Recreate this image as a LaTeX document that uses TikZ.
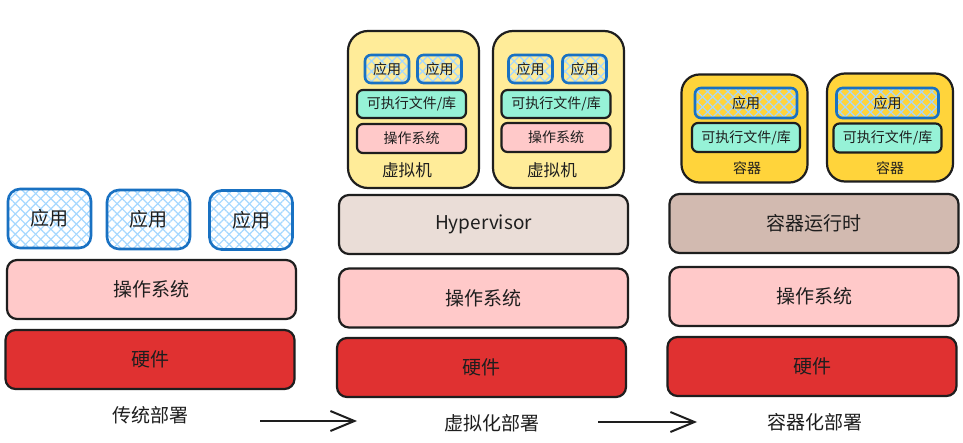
\documentclass[tikz,border=0pt]{standalone}
\usepackage{fontspec}
\setmainfont{Noto Sans CJK SC}
\usetikzlibrary{patterns.meta,arrows.meta}
\definecolor{ink}{HTML}{1E1E1E}
\definecolor{appblue}{HTML}{1971C2}
\definecolor{hatch}{HTML}{A5D8FF}
\definecolor{ospink}{HTML}{FFC9C9}
\definecolor{hwred}{HTML}{E03131}
\definecolor{hyperbeige}{HTML}{EADDD7}
\definecolor{runbrown}{HTML}{D2BAB0}
\definecolor{vmyellow}{HTML}{FFEC99}
\definecolor{ctyellow}{HTML}{FFD43B}
\definecolor{execgreen}{HTML}{96F2D7}
\tikzset{
  box/.style={draw=ink, line width=1.1pt, rounded corners=5pt, text=ink, inner sep=0pt,
    font=\fontsize{9.5}{11}\selectfont},
  layer/.style={box, minimum width=144.5pt, minimum height=29.5pt},
  hwbox/.style={layer, fill=hwred},
  osbox/.style={layer, fill=ospink},
  hyperbox/.style={layer, fill=hyperbeige},
  runbox/.style={layer, fill=runbrown},
  hatched/.style={draw=appblue, line width=1.3pt,
    pattern={Lines[angle=45,distance=3.6pt,line width=.6pt]}, pattern color=hatch,
    preaction={pattern={Lines[angle=-45,distance=3.6pt,line width=.6pt]}, pattern color=hatch}},
  appbox/.style={box, hatched, minimum width=41.5pt, minimum height=29.5pt, rounded corners=6pt},
  small/.style={box, rounded corners=3pt, font=\fontsize{7}{8}\selectfont},
  vmapp/.style={small, hatched, minimum width=22pt, minimum height=14pt},
  vmexec/.style={small, fill=execgreen, minimum width=54.5pt, minimum height=14pt},
  vmos/.style={small, fill=ospink, minimum width=54.5pt, minimum height=14.5pt},
  vmbox/.style={box, fill=vmyellow, rounded corners=10pt, minimum width=65.5pt, minimum height=78.5pt},
  ctbox/.style={box, fill=ctyellow, rounded corners=9pt, minimum width=63pt, minimum height=54pt},
  ctapp/.style={small, hatched, minimum width=51pt, minimum height=15pt},
  ctexec/.style={small, fill=execgreen, minimum width=54pt, minimum height=14.5pt},
  caption/.style={text=ink, font=\fontsize{9.5}{11}\selectfont},
  flow/.style={draw=ink, line width=1pt, -{Straight Barb[length=12pt,width=10pt]}}
}
\begin{document}
\begin{tikzpicture}[x=0.5pt,y=-0.5pt]
\useasboundingbox[fill=white] (0,0) rectangle (963,443);
% traditional
\node[appbox] (app1) at (49.5,218.5) {应用};
\node[appbox] (app2) at (148.5,219.5) {应用};
\node[appbox] (app3) at (251,220) {应用};
\node[osbox] (os1) at (151.5,289.5) {操作系统};
\node[hwbox] (hw1) at (150,359.5) {硬件};
\node[caption] (lbl1) at (150,415) {传统部署};
% virtual machines
\node[vmbox] (vm1) at (413.5,109.5) {};
\node[vmapp] (vm1a) at (387,69) {应用};
\node[vmapp] (vm1b) at (439.5,69) {应用};
\node[vmexec] (vm1e) at (411.5,104) {可执行文件/库};
\node[vmos] (vm1o) at (411.5,138.5) {操作系统};
\node[caption, font=\fontsize{8.3}{10}\selectfont] (vm1l) at (407,170) {虚拟机};
\node[vmbox] (vm2) at (558.5,109.5) {};
\node[vmapp] (vm2a) at (530.5,69) {应用};
\node[vmapp] (vm2b) at (584.5,69) {应用};
\node[vmexec] (vm2e) at (556,104) {可执行文件/库};
\node[vmos] (vm2o) at (556,137.5) {操作系统};
\node[caption, font=\fontsize{8.3}{10}\selectfont] (vm2l) at (552,170) {虚拟机};
\node[hyperbox] (hyp) at (483.5,224.5) {Hypervisor};
\node[osbox] (os2) at (483.5,298) {操作系统};
\node[hwbox] (hw2) at (481.5,367.5) {硬件};
\node[caption] (lbl2) at (492,423) {虚拟化部署};
% containers
\node[ctbox] (ct1) at (744.5,128.5) {};
\node[ctapp] (ct1a) at (746,103) {应用};
\node[ctexec] (ct1e) at (746,137.5) {可执行文件/库};
\node[caption, font=\fontsize{7}{8}\selectfont] (ct1l) at (747,168) {容器};
\node[ctbox] (ct2) at (890,127.5) {};
\node[ctapp] (ct2a) at (887.5,103) {应用};
\node[ctexec] (ct2e) at (887.5,138) {可执行文件/库};
\node[caption, font=\fontsize{7}{8}\selectfont] (ct2l) at (890,168) {容器};
\node[runbox] (run) at (814,223.5) {容器运行时};
\node[osbox] (os3) at (814,296.5) {操作系统};
\node[hwbox] (hw3) at (812,366.5) {硬件};
\node[caption] (lbl3) at (815,422) {容器化部署};
% arrows
\coordinate (a1s) at (260,421);
\coordinate (a1e) at (357,421);
\coordinate (a2s) at (598,422);
\coordinate (a2e) at (697,422);
\draw[flow] (a1s) -- (a1e);
\draw[flow] (a2s) -- (a2e);
\end{tikzpicture}
\end{document}
